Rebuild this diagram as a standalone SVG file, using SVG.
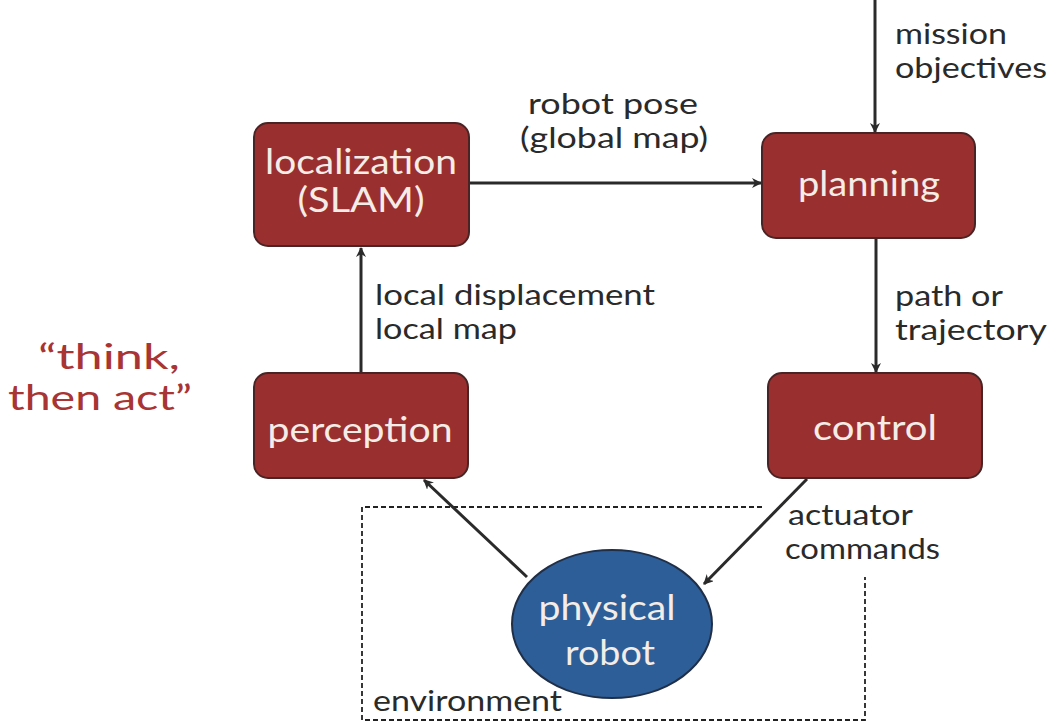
<svg xmlns="http://www.w3.org/2000/svg" width="1054" height="722" viewBox="0 0 1054 722">
<style>
.box{fill:#9a2f2f;stroke:#4a2424;stroke-width:2}
.robot{fill:#2d5e98;stroke:#1f2f48;stroke-width:2}
.nt{font-family:Lato,"Open Sans",sans-serif;font-size:34px;fill:#f4ece6;text-anchor:middle}
.lb{font-family:Lato,"Open Sans",sans-serif;font-size:28px;fill:#2a2a2a}
.red{font-family:Lato,"Open Sans",sans-serif;font-size:34px;fill:#a83434}
.edge{stroke:#2a2a2a;stroke-width:3;fill:none;marker-end:url(#ah)}
.env{stroke:#222;stroke-width:1.8;fill:none;stroke-dasharray:5 3}
</style>
<defs>
<marker id="ah" markerWidth="10" markerHeight="10" refX="9" refY="5" orient="auto" markerUnits="userSpaceOnUse" viewBox="0 0 10 10">
<path d="M0,0 L10,5 L0,10 L3,5 z" fill="#2a2a2a"/>
</marker>
</defs>
<rect width="1054" height="722" fill="#fff"/>
<g id="environment">
<path class="env" d="M762,507 H362 V720 H865 V577"/>
<text class="lb" x="373" y="711" textLength="189" lengthAdjust="spacingAndGlyphs">environment</text>
</g>
<g id="connectors">
<line class="edge" x1="470" y1="183" x2="761" y2="183"/>
<line class="edge" x1="875" y1="0" x2="875" y2="132"/>
<line class="edge" x1="361" y1="373" x2="361" y2="248"/>
<line class="edge" x1="876" y1="238" x2="876" y2="372"/>
<line class="edge" x1="807" y1="479" x2="704" y2="584"/>
<line class="edge" x1="527" y1="577" x2="424" y2="480"/>
</g>
<g id="labels">
<text class="lb" x="528" y="114" textLength="170" lengthAdjust="spacingAndGlyphs">robot pose</text>
<text class="lb" x="520" y="148" textLength="188" lengthAdjust="spacingAndGlyphs">(global map)</text>
<text class="lb" x="895" y="44" textLength="112" lengthAdjust="spacingAndGlyphs">mission</text>
<text class="lb" x="895" y="78" textLength="152" lengthAdjust="spacingAndGlyphs">objectives</text>
<text class="lb" x="375" y="305" textLength="280" lengthAdjust="spacingAndGlyphs">local displacement</text>
<text class="lb" x="375" y="339" textLength="142" lengthAdjust="spacingAndGlyphs">local map</text>
<text class="lb" x="895" y="306" textLength="108" lengthAdjust="spacingAndGlyphs">path or</text>
<text class="lb" x="895" y="340" textLength="152" lengthAdjust="spacingAndGlyphs">trajectory</text>
<text class="lb" x="788" y="525" textLength="125" lengthAdjust="spacingAndGlyphs">actuator</text>
<text class="lb" x="785" y="559" textLength="155" lengthAdjust="spacingAndGlyphs">commands</text>
</g>
<g id="think">
<text class="red" x="38" y="369" textLength="142" lengthAdjust="spacingAndGlyphs">“think,</text>
<text class="red" x="8" y="410" textLength="184" lengthAdjust="spacingAndGlyphs">then act”</text>
</g>
<g id="localization">
<rect class="box" x="254" y="123" width="215" height="123" rx="14"/>
<text class="nt" x="361" y="174" textLength="192" lengthAdjust="spacingAndGlyphs">localization</text>
<text class="nt" x="361" y="212" textLength="127" lengthAdjust="spacingAndGlyphs">(SLAM)</text>
</g>
<g id="planning">
<rect class="box" x="762" y="133" width="213" height="105" rx="14"/>
<text class="nt" x="869" y="196" textLength="142" lengthAdjust="spacingAndGlyphs">planning</text>
</g>
<g id="perception">
<rect class="box" x="254" y="373" width="214" height="105" rx="14"/>
<text class="nt" x="360" y="442" textLength="185" lengthAdjust="spacingAndGlyphs">perception</text>
</g>
<g id="control">
<rect class="box" x="768" y="373" width="214" height="105" rx="14"/>
<text class="nt" x="875" y="440" textLength="124" lengthAdjust="spacingAndGlyphs">control</text>
</g>
<g id="robot">
<ellipse class="robot" cx="612" cy="624" rx="100" ry="74"/>
<text class="nt" x="607" y="620" textLength="137" lengthAdjust="spacingAndGlyphs">physical</text>
<text class="nt" x="610" y="665" textLength="90" lengthAdjust="spacingAndGlyphs">robot</text>
</g>
</svg>
